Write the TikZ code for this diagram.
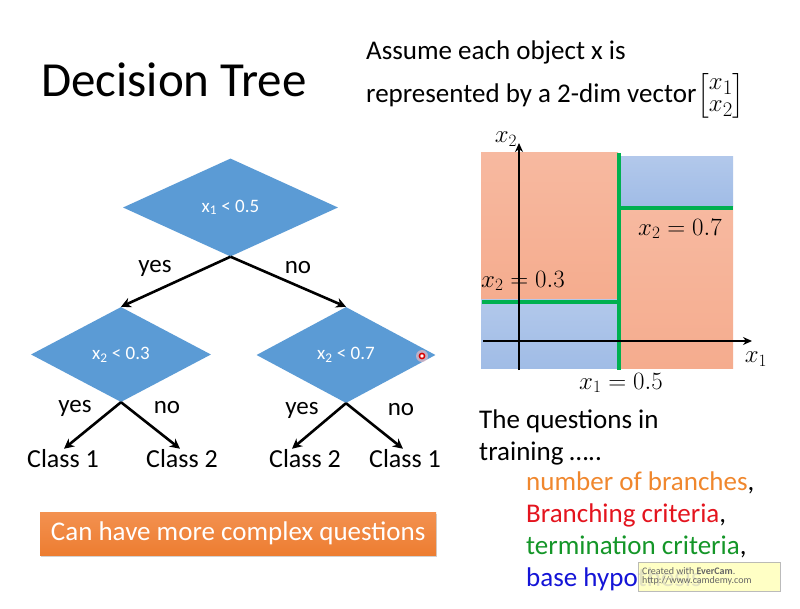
\documentclass[tikz,border=0pt]{standalone}
\usepackage{fontspec}
\usepackage{amsmath}
\setmainfont{Carlito}
\usetikzlibrary{shapes.geometric,arrows.meta,shadows}
\definecolor{dblue}{RGB}{91,155,213}
\definecolor{salmon}{RGB}{245,172,142}
\definecolor{salmontop}{RGB}{247,185,160}
\definecolor{lblue}{RGB}{160,188,230}
\definecolor{lbluetop}{RGB}{178,200,235}
\definecolor{gline}{RGB}{0,176,80}
\definecolor{otext}{RGB}{240,135,45}
\definecolor{rtext}{RGB}{228,20,30}
\definecolor{gtext}{RGB}{20,150,40}
\definecolor{btext}{RGB}{20,20,215}
\definecolor{obox}{RGB}{237,125,49}
\definecolor{oboxtop}{RGB}{243,145,80}
\definecolor{wmyellow}{RGB}{255,255,190}
\newcommand{\fs}[1]{\fontsize{#1}{#1}\selectfont}
\tikzset{
  dia/.style={diamond, fill=dblue, inner sep=0pt, text=white, font=\fs{19}},
  arr/.style={line width=2.6pt, -{Stealth[length=10pt,width=10pt]}},
  lbl/.style={font=\fs{25}, inner sep=0pt},
  cls/.style={font=\fs{26}, inner sep=2pt},
  gl/.style={gline, line width=4pt},
  ax/.style={line width=2.6pt, -{Stealth[length=9pt,width=8pt]}},
  mth/.style={font=\fs{27}, inner sep=0pt},
  body/.style={anchor=base west, font=\fs{27}, inner sep=0pt},
}
\begin{document}
\begin{tikzpicture}[x=1pt,y=-1pt]
\useasboundingbox[fill=white] (0,0) rectangle (800,609);
% title
\node[anchor=base west, font=\fs{49}, inner sep=0pt] (title) at (41,97) {Decision Tree};
% tree
\node[dia, minimum width=215pt, minimum height=98pt] (r) at (230.5,207.5) {x\textsubscript{1} < 0.5};
\node[dia, minimum width=180pt, minimum height=95pt] (a) at (121,354.5) {x\textsubscript{2} < 0.3};
\node[dia, minimum width=179pt, minimum height=96pt] (b) at (346,355) {x\textsubscript{2} < 0.7};
\node[cls, anchor=base] (c1) at (63,467) {Class 1};
\node[cls, anchor=base] (c2) at (182,467) {Class 2};
\node[cls, anchor=base] (c3) at (305,467) {Class 2};
\node[cls, anchor=base] (c4) at (405,467) {Class 1};
\draw[arr] (r.south) -- (a.north);
\draw[arr] (r.south) -- (b.north);
\draw[arr] (a.south) -- ([xshift=1pt,yshift=-2pt]c1.north);
\draw[arr] (a.south) -- ([xshift=-2pt,yshift=-2pt]c2.north);
\draw[arr] (b.south) -- ([xshift=-13pt,yshift=-2pt]c3.north);
\draw[arr] (b.south) -- ([xshift=-2pt,yshift=-2pt]c4.north);
\node[lbl] (l1) at (155,268) {yes};
\node[lbl] (l2) at (298,268) {no};
\node[lbl] (l3) at (75,408) {yes};
\node[lbl] (l4) at (167,408) {no};
\node[lbl] (l5) at (302,410) {yes};
\node[lbl] (l6) at (401,410) {no};
% cursor dot
\fill[red!25, opacity=0.6] (422,356) circle (6pt);
\draw[red!85!black, line width=1.5pt, fill=white] (422,356) circle (2.6pt);
% orange box
\node[anchor=north west, minimum width=396pt, minimum height=43pt, top color=oboxtop, bottom color=obox, drop shadow={shadow xshift=1pt, shadow yshift=-2pt, opacity=0.35}, text=white, font=\fs{27}, inner sep=0pt] (box) at (40,512) {Can have more complex questions};
% top right text
\node[body] (t1) at (366,60) {Assume each object x is};
\node[body] (t2) at (366,103) {represented by a 2-dim vector};
\node[anchor=west, font=\fs{28}, inner sep=0pt] (vec) at (697,96) {$\renewcommand{\arraystretch}{0.8}\begin{bmatrix}x_1\\ x_2\end{bmatrix}$};
% plot
\shade[top color=salmontop, bottom color=salmon] (481,153) rectangle (618,300);
\shade[top color=lbluetop, bottom color=lblue] (481,300) rectangle (618,368);
\shade[top color=lbluetop, bottom color=lblue] (621,157) rectangle (733,207);
\shade[top color=salmontop, bottom color=salmon] (621,207) rectangle (733,368);
\draw[gl] (482,302) -- (619,302);
\draw[gl] (619,208) -- (733,208);
\draw[gl] (619,153) -- (619,370);
\draw[ax] (519,370) -- (519,143);
\draw[ax] (483,341) -- (752,341);
\node[mth] (x2ax) at (506,139) {$x_2$};
\node[mth] (x1ax) at (756,359) {$x_1$};
\node[mth] (q1) at (523,281) {$x_2 = 0.3$};
\node[mth] (q2) at (680,229) {$x_2 = 0.7$};
\node[mth] (q3) at (621,383) {$x_1 = 0.5$};
% bottom right text
\node[body] (b1) at (479,428) {The questions in};
\node[body] (b2) at (479,460) {training …..};
\node[body] (b3) at (526,490) {\textcolor{otext}{number of branches},};
\node[body] (b4) at (526,522) {\textcolor{rtext}{Branching criteria},};
\node[body] (b5) at (526,554) {\textcolor{gtext}{termination criteria},};
\node[body, text=btext] (b6) at (526,586) {base hypothesis};
% watermark
\fill[wmyellow, opacity=0.88, draw=gray!60] (638,562) rectangle (780,591);
\node[anchor=west, font=\fs{10}, text=gray!80!black, align=left, inner sep=0pt] (wm) at (642,576.5) {Created with \textbf{EverCam}.\\[-1pt]http://www.camdemy.com};
\end{tikzpicture}
\end{document}
